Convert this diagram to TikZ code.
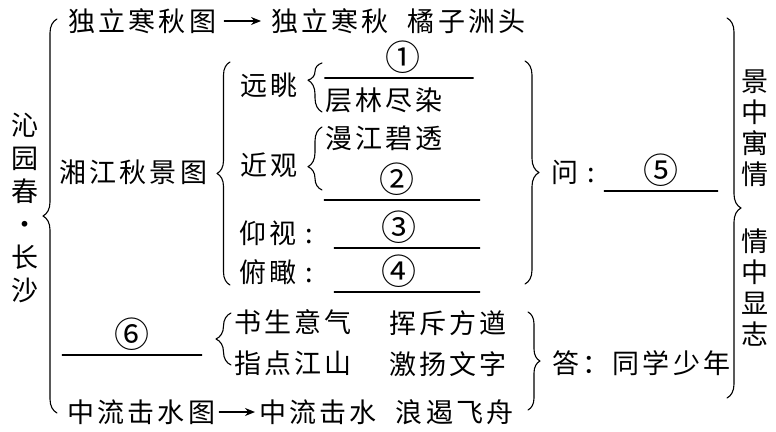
\documentclass[tikz,border=0pt]{standalone}
\usepackage{fontspec}
\setmainfont{Noto Sans CJK SC}[LetterSpace=12]
\usetikzlibrary{decorations.pathreplacing,arrows.meta}
\begin{document}
\begin{tikzpicture}[x=1pt,y=-1pt,line join=round,line cap=round]
		\useasboundingbox (0,0) rectangle (776,431);
		\tikzset{
			txt/.style={inner sep=0pt,anchor=west,font=\fontsize{27}{33}\selectfont},
			col/.style={inner sep=0pt,align=center,font=\fontsize{27}{31}\selectfont},
			blank/.style={inner xsep=0pt,inner ysep=4pt,minimum width=#1,anchor=south,font=\fontsize{35}{40}\selectfont},
			brc/.style={decorate,decoration={brace,amplitude=#1},line width=1.1pt},
			brc/.default=13,
			arr/.style={-{Stealth[length=10pt,width=8pt]},line width=1.3pt}
		}
		\node[col,font=\fontsize{27}{33}\selectfont] (title) at (25,208) {沁\\园\\春\\·\\长\\沙};
		\node[txt] (q1) at (68,21) {独立寒秋图};
		\node[txt] (q2) at (271,21) {独立寒秋\hspace{19pt}橘子洲头};
		\draw[arr,shorten <=8pt,shorten >=10pt] (q1) -- (q2);
		\node[txt] (xj) at (59,172) {湘江秋景图};
		\node[txt] (yt) at (240,85) {远眺};
		\node[txt] (jg) at (240,165) {近观};
		\node[txt] (cl) at (325,100) {层林尽染};
		\node[txt] (mj) at (325,138) {漫江碧透};
		\node[txt] (ys) at (239,233) {仰视~:};
		\node[txt] (fk) at (239,272) {俯瞰~:};
		\node[blank=148] (b1) at (399,78) {\hspace*{8pt}①};
		\node[blank=155] (b2) at (402,200) {\hspace*{-10pt}②};
		\node[blank=145] (b3) at (407,248) {\hspace*{-16pt}③};
		\node[blank=145] (b4) at (407,292) {\hspace*{-16pt}④};
		\node[txt] (wen) at (551,172) {问\hspace{9pt}:};
		\node[blank=113] (b5) at (661,191) {⑤};
		\node[blank=139] (b6) at (132,355) {⑥};
		\node[txt] (s1) at (234,322) {书生意气};
		\node[txt] (s2) at (234,363) {指点江山};
		\node[txt] (s3) at (389,323) {挥斥方遒};
		\node[txt] (s4) at (389,364) {激扬文字};
		\node[txt] (da) at (552,363) {答：同学少年};
		\node[txt] (z1) at (67,412) {中流击水图};
		\node[txt] (z2) at (259,412) {中流击水\hspace{19pt}浪遏飞舟};
		\draw[arr,shorten <=4pt,shorten >=4pt] (z1) -- (z2);
		\node[col] (jz) at (755,128) {景\\中\\寓\\情};
		\node[col] (qz) at (755,288) {情\\中\\显\\志};
		\foreach \b in {b1,b2,b3,b4,b5,b6}
			\draw[line width=1.3pt] (\b.south west) -- (\b.south east);
		\draw[brc=14] (57,413) -- (57,19);
		\draw[brc=13] (230,285) -- (230,62);
		\draw[brc=14,decoration={aspect=.65}] (322,112) -- (322,63);
		\draw[brc=14,decoration={aspect=.37}] (322,190) -- (322,127);
		\draw[brc=14] (525,61) -- (525,284);
		\draw[brc=14] (727,18) -- (727,398);
		\draw[brc=15] (231,365) -- (231,313);
		\draw[brc=12] (528,312) -- (528,410);
\end{tikzpicture}
\end{document}
